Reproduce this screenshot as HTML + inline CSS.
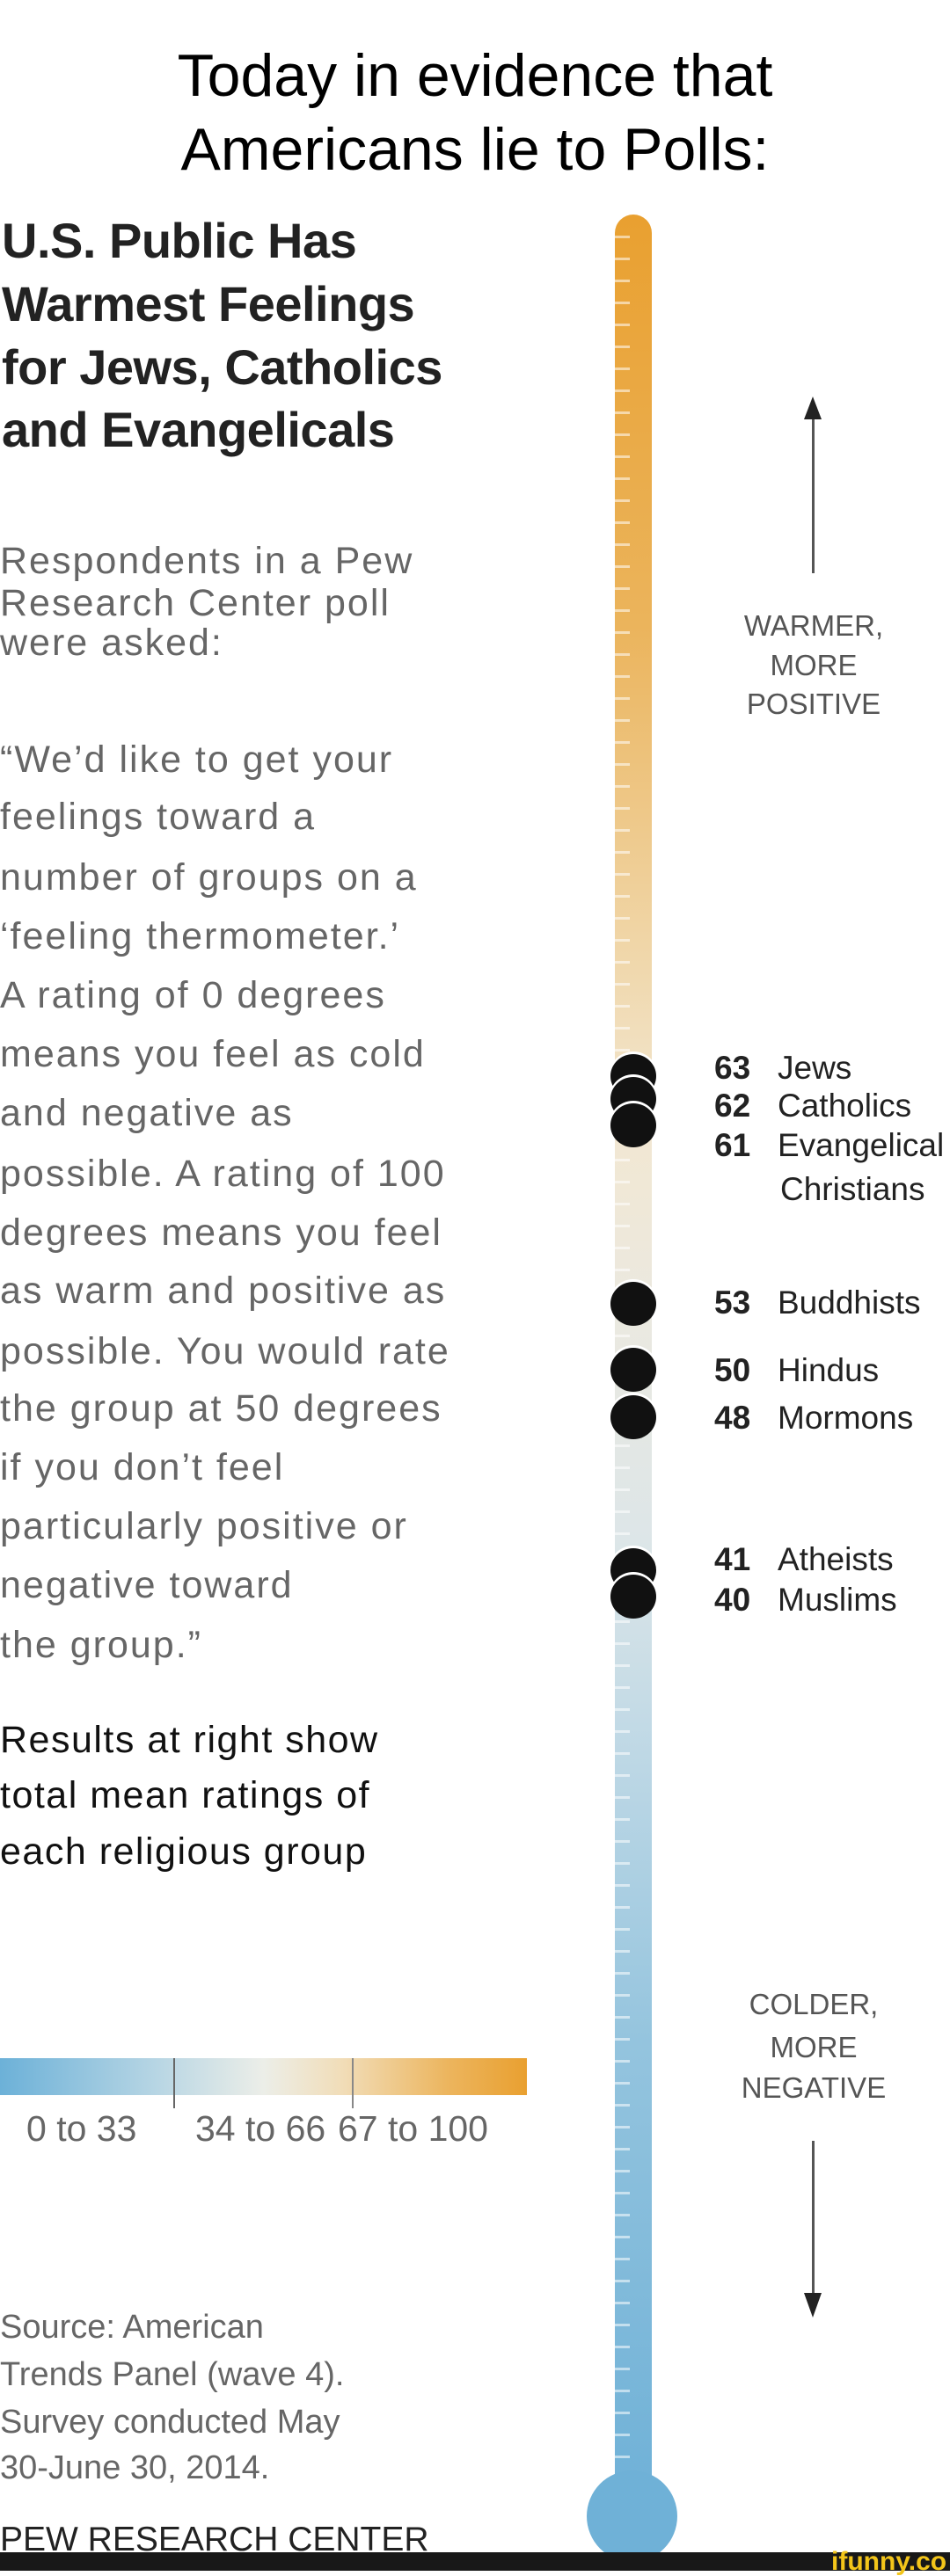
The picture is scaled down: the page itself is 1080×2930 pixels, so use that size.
<!DOCTYPE html>
<html><head><meta charset="utf-8"><style>
html,body{margin:0;padding:0;background:#fff;}
body{width:1080px;height:2924px;position:relative;overflow:hidden;font-family:"Liberation Sans",sans-serif;}
.t{position:absolute;white-space:nowrap;}
.ti{font-size:68px;color:#000;left:0;width:1080px;text-align:center;line-height:80px;}
.h{font-size:56px;font-weight:bold;color:#222;left:2px;line-height:60px;letter-spacing:-0.5px;}
.g{font-size:43px;color:#666;left:0;line-height:50px;letter-spacing:2px;}
.b{font-size:43px;color:#111;left:0;line-height:50px;letter-spacing:1.5px;}
.lab{font-size:37px;color:#222;line-height:44px;}
.lab b{display:inline-block;width:72px;}
.c{font-size:33px;color:#555;width:220px;left:815px;text-align:center;line-height:44px;}
.dot{position:absolute;width:52px;height:50px;border-radius:50%;background:#111;left:694px;box-shadow:0 -2px 0 1px #fff;}
</style></head><body>
<div class="t ti" style="top:46px">Today in evidence that</div>
<div class="t ti" style="top:130px">Americans lie to Polls:</div>

<div class="t h" style="top:244px">U.S. Public Has</div>
<div class="t h" style="top:316px">Warmest Feelings</div>
<div class="t h" style="top:388px">for Jews, Catholics</div>
<div class="t h" style="top:459px">and Evangelicals</div>

<div class="t g" style="top:613px">Respondents in a Pew</div>
<div class="t g" style="top:661px">Research Center poll</div>
<div class="t g" style="top:706px">were asked:</div>

<div class="t g" style="top:839px">“We’d like to get your</div>
<div class="t g" style="top:904px">feelings toward a</div>
<div class="t g" style="top:973px">number of groups on a</div>
<div class="t g" style="top:1040px">‘feeling thermometer.’</div>
<div class="t g" style="top:1107px">A rating of 0 degrees</div>
<div class="t g" style="top:1174px">means you feel as cold</div>
<div class="t g" style="top:1241px">and negative as</div>
<div class="t g" style="top:1310px">possible. A rating of 100</div>
<div class="t g" style="top:1377px">degrees means you feel</div>
<div class="t g" style="top:1443px">as warm and positive as</div>
<div class="t g" style="top:1512px">possible. You would rate</div>
<div class="t g" style="top:1577px">the group at 50 degrees</div>
<div class="t g" style="top:1644px">if you don’t feel</div>
<div class="t g" style="top:1711px">particularly positive or</div>
<div class="t g" style="top:1778px">negative toward</div>
<div class="t g" style="top:1846px">the group.”</div>

<div class="t b" style="top:1954px">Results at right show</div>
<div class="t b" style="top:2017px">total mean ratings of</div>
<div class="t b" style="top:2081px">each religious group</div>

<div style="position:absolute;left:0;top:2341px;width:599px;height:42px;background:linear-gradient(to right,#6cb1d8 0%,#b8d6e4 30%,#eceee8 50%,#f1ddb8 65%,#ecb55e 85%,#e9a030 100%);"></div>
<div style="position:absolute;left:197px;top:2341px;width:2px;height:57px;background:#666;"></div>
<div style="position:absolute;left:400px;top:2341px;width:2px;height:57px;background:#888;"></div>
<div class="t g" style="left:30px;top:2396px;font-size:41px;letter-spacing:0;">0 to 33</div>
<div class="t g" style="left:222px;top:2396px;font-size:41px;letter-spacing:0;">34 to 66</div>
<div class="t g" style="left:384px;top:2396px;font-size:41px;letter-spacing:0;">67 to 100</div>

<div class="t g" style="top:2622px;font-size:38px;letter-spacing:0;">Source: American</div>
<div class="t g" style="top:2676px;font-size:38px;letter-spacing:0;">Trends Panel (wave 4).</div>
<div class="t g" style="top:2730px;font-size:38px;letter-spacing:0;">Survey conducted May</div>
<div class="t g" style="top:2782px;font-size:38px;letter-spacing:0;">30-June 30, 2014.</div>
<div class="t b" style="top:2864px;font-size:39px;color:#222;letter-spacing:0;">PEW RESEARCH CENTER</div>

<!-- thermometer -->
<div style="position:absolute;left:699px;top:244px;width:42px;height:2600px;border-radius:21px 21px 0 0;background:linear-gradient(to bottom,#e9a030 0%,#ebb45c 18%,#f0d6a8 32%,#f2e7d2 40%,#ebe9e0 48%,#dde6e8 58%,#bcd7e5 68%,#94c4de 80%,#6fb1d7 100%);"></div>
<div style="position:absolute;left:699px;top:268px;width:17px;height:2530px;background:repeating-linear-gradient(to bottom,rgba(255,255,255,0.55) 0 3px,transparent 3px 25px);"></div>
<div style="position:absolute;left:667px;top:2810px;width:103px;height:104px;border-radius:50%;background:#6fb1d7;"></div>

<div class="dot" style="top:1199px"></div>
<div class="dot" style="top:1225px"></div>
<div class="dot" style="top:1255px"></div>
<div class="dot" style="top:1458px"></div>
<div class="dot" style="top:1533px"></div>
<div class="dot" style="top:1587px"></div>
<div class="dot" style="top:1761px"></div>
<div class="dot" style="top:1791px"></div>

<div class="t lab" style="left:812px;top:1193px"><b>63</b>Jews</div>
<div class="t lab" style="left:812px;top:1236px"><b>62</b>Catholics</div>
<div class="t lab" style="left:812px;top:1281px"><b>61</b>Evangelical</div>
<div class="t lab" style="left:887px;top:1331px">Christians</div>
<div class="t lab" style="left:812px;top:1460px"><b>53</b>Buddhists</div>
<div class="t lab" style="left:812px;top:1537px"><b>50</b>Hindus</div>
<div class="t lab" style="left:812px;top:1591px"><b>48</b>Mormons</div>
<div class="t lab" style="left:812px;top:1752px"><b>41</b>Atheists</div>
<div class="t lab" style="left:812px;top:1798px"><b>40</b>Muslims</div>

<!-- arrows -->
<div style="position:absolute;left:923px;top:470px;width:3px;height:182px;background:#555;"></div>
<div style="position:absolute;left:914px;top:451px;width:0;height:0;border-left:10px solid transparent;border-right:10px solid transparent;border-bottom:26px solid #222;"></div>
<div class="t c" style="top:690px">WARMER,</div>
<div class="t c" style="top:735px">MORE</div>
<div class="t c" style="top:779px">POSITIVE</div>

<div class="t c" style="top:2258px">COLDER,</div>
<div class="t c" style="top:2307px">MORE</div>
<div class="t c" style="top:2353px">NEGATIVE</div>
<div style="position:absolute;left:923px;top:2435px;width:3px;height:180px;background:#555;"></div>
<div style="position:absolute;left:914px;top:2608px;width:0;height:0;border-left:10px solid transparent;border-right:10px solid transparent;border-top:28px solid #222;"></div>

<div style="position:absolute;left:0;top:2903px;width:1080px;height:21px;background:#181818;"></div>
<div class="t" style="left:945px;top:2899px;font-size:30px;font-weight:bold;color:#f3c51a;line-height:30px;">ifunny.co</div>
</body></html>
